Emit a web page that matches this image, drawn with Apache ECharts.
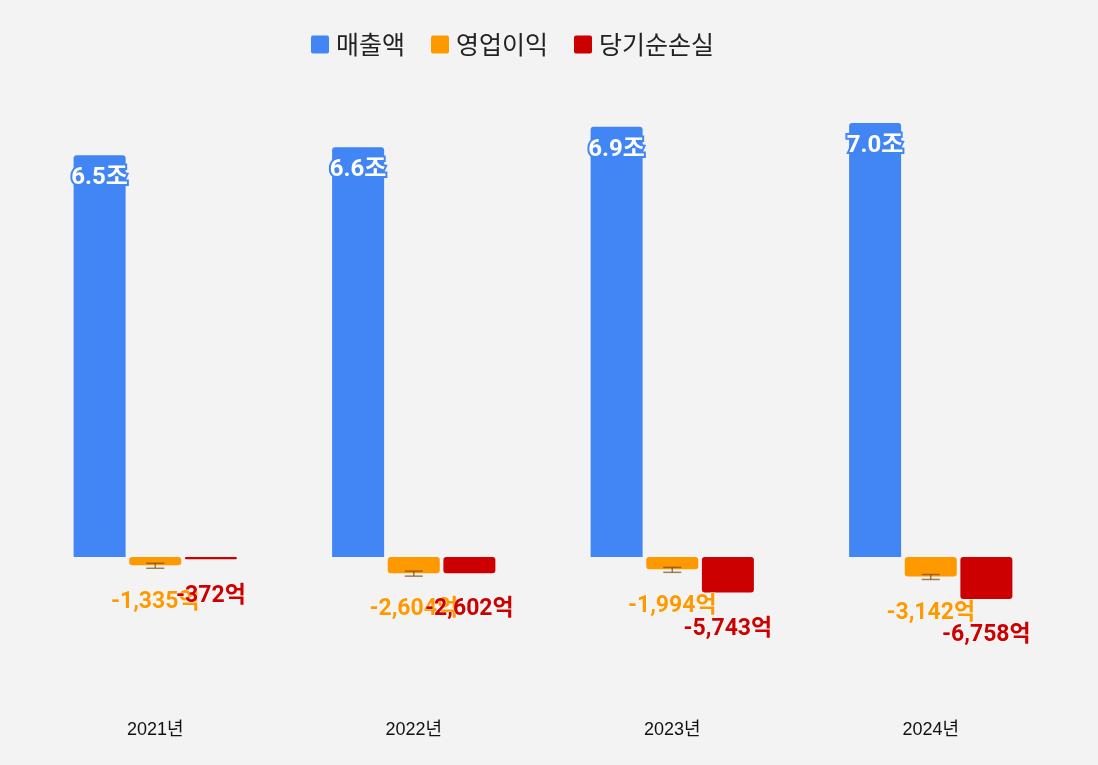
<!DOCTYPE html>
<html><head><meta charset="utf-8">
<script src="https://cdn.jsdelivr.net/npm/echarts@6/dist/echarts.min.js"></script>
<style>html,body{margin:0;padding:0;background:#f3f3f3;}#c{width:1098px;height:765px;}</style>
</head><body><div id="c"></div>
<script>
const categories = ['2021년', '2022년', '2023년', '2024년'];
const seriesNames = ['매출액', '영업이익', '당기순손실'];
const revenue = [64800, 66100, 69400, 70000];       // 억
const operatingIncome = [-1335, -2604, -1994, -3142]; // 억
const netLoss = [-372, -2602, -5743, -6758];         // 억

const labelFont = 'Roboto, "Noto Sans CJK KR", sans-serif';
const fmtEok = p => p.value.toLocaleString('en-US') + '억';
const squareIcon = 'path://M2,0 H16 A2,2 0 0 1 18,2 V16 A2,2 0 0 1 16,18 H2 A2,2 0 0 1 0,16 V2 A2,2 0 0 1 2,0 Z';

const chart = echarts.init(document.getElementById('c'));
chart.setOption({
  backgroundColor: '#f3f3f3',
  animation: false,
  legend: {
    data: seriesNames,
    left: 306, top: 27,
    itemWidth: 18, itemHeight: 18, itemGap: 26,
    icon: squareIcon,
    textStyle: { fontSize: 25, color: '#222', fontFamily: '"Noto Sans CJK KR", sans-serif', padding: [0, 0, 0, 2] }
  },
  grid: { left: 26, right: 38, top: 92, bottom: 53 },
  xAxis: {
    type: 'category', data: categories,
    axisLine: { show: false }, axisTick: { show: false },
    axisLabel: { fontSize: 18, color: '#111', margin: 9, fontFamily: '"Liberation Sans", "Noto Sans CJK KR", sans-serif' }
  },
  yAxis: { type: 'value', min: -25000, max: 75000, show: false, splitLine: { show: false } },
  series: [
    {
      name: '매출액', type: 'bar', data: revenue, barWidth: 52, barGap: '7%',
      itemStyle: { color: '#4285F4', borderRadius: [3, 3, 0, 0] },
      label: {
        show: true, position: 'insideTop', distance: 11,
        formatter: p => (p.value / 10000).toFixed(1) + '조',
        color: '#fff', fontSize: 24, fontWeight: 'bold', fontFamily: labelFont,
        textBorderColor: '#4285F4', textBorderWidth: 4
      }
    },
    {
      name: '영업이익', type: 'bar', data: operatingIncome, barWidth: 52, barGap: '7%',
      itemStyle: { color: '#FF9900', borderRadius: 3 },
      label: {
        show: true, position: 'outside', distance: 25, formatter: fmtEok,
        color: '#FF9900', fontSize: 23, fontWeight: 'bold', fontFamily: labelFont,
        textBorderColor: 'rgba(255,255,255,0.6)', textBorderWidth: 1
      }
    },
    {
      name: '당기순손실', type: 'bar', data: netLoss, barWidth: 52, barGap: '7%',
      itemStyle: { color: '#CC0000', borderRadius: 3 },
      label: {
        show: true, position: 'outside', distance: 25, formatter: fmtEok,
        color: '#CC0000', fontSize: 23, fontWeight: 'bold', fontFamily: labelFont,
        textBorderColor: 'rgba(255,255,255,0.6)', textBorderWidth: 1
      }
    },
    {
      name: 'marker', type: 'custom', data: operatingIncome.map((v, i) => [i, v]),
      silent: true, z: 5,
      renderItem: function (params, api) {
        const pt = api.coord([api.value(0), api.value(1)]);
        const x = pt[0], y = pt[1];
        const st = { stroke: 'rgba(120,75,20,0.7)', lineWidth: 1.5 };
        return {
          type: 'group',
          children: [
            { type: 'line', shape: { x1: x - 9, y1: y - 2, x2: x + 9, y2: y - 2 }, style: st },
            { type: 'line', shape: { x1: x - 9, y1: y + 3, x2: x + 9, y2: y + 3 }, style: st },
            { type: 'line', shape: { x1: x, y1: y - 2, x2: x, y2: y + 3 }, style: st }
          ]
        };
      }
    }
  ]
});
</script></body></html>
